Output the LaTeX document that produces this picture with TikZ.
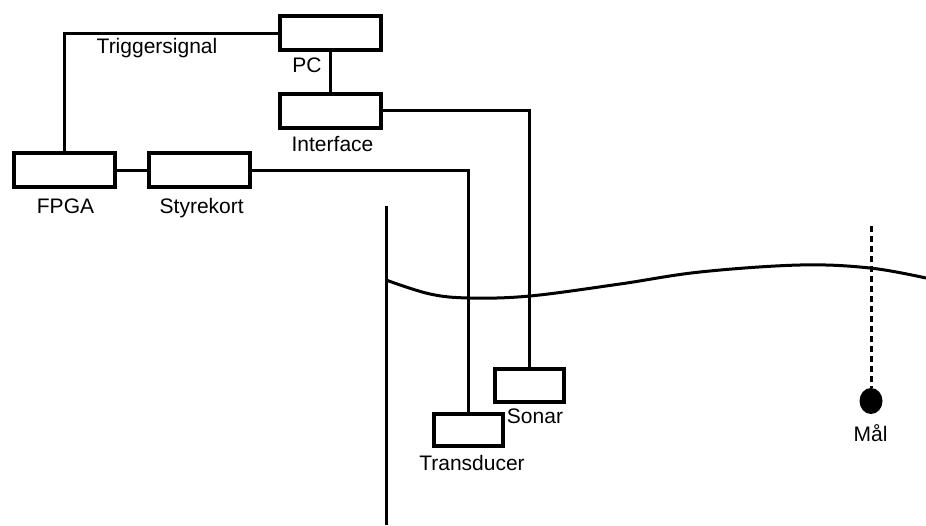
\documentclass[tikz,border=0pt]{standalone}
\usepackage{fontspec}
\setmainfont{Liberation Sans}
\usetikzlibrary{shapes.geometric}
\begin{document}
\begin{tikzpicture}[x=1pt,y=-1pt,
  box/.style={draw,line width=4pt,rectangle,inner sep=0pt,minimum width=101pt,minimum height=34pt},
  smallbox/.style={draw,line width=4pt,rectangle,inner sep=0pt,minimum width=69pt,minimum height=33pt},
  wire/.style={line width=3pt},
  lbl/.style={anchor=base,inner sep=0pt,font=\fontsize{21}{25}\selectfont}]
\useasboundingbox (0,0) rectangle (926,525);
% boxes
\node[box] (pc) at (330.5,33) {};
\node[box] (iface) at (330.5,110.5) {};
\node[box] (fpga) at (64.5,170) {};
\node[box] (styr) at (199.5,170) {};
\node[smallbox] (sonar) at (529.5,385.5) {};
\node[smallbox,minimum height=32pt] (trans) at (468.5,430) {};
\node[ellipse,fill=black,inner sep=0pt,minimum width=23pt,minimum height=26pt] (mal) at (871,401) {};
% labels
\node[lbl] (ltrig) at (157,53.6) {Triggersignal};
\node[lbl] (lpc) at (307,72.7) {PC};
\node[lbl] (liface) at (332.5,151.7) {Interface};
\node[lbl] (lfpga) at (65.5,213) {FPGA};
\node[lbl] (lstyr) at (201.7,213) {Styrekort};
\node[lbl] (lsonar) at (535,423) {Sonar};
\node[lbl] (ltrans) at (472,470.7) {Transducer};
\node[lbl] (lmal) at (870.5,441.7) {Mål};
% connectors
\draw[wire] (pc.west) -| (fpga.north);
\draw[wire] (pc.south) -- (iface.north);
\draw[wire] (fpga.east) -- (styr.west);
\draw[wire] (styr.east) -| (trans.north);
\draw[wire] (iface.east) -| (sonar.north);
% wall and water surface
\coordinate (walltop) at (386,206);
\coordinate (wallbot) at (386,525);
\draw[wire] (walltop) -- (wallbot);
\draw[wire] plot[smooth,tension=0.6] coordinates {(386,280) (430,294) (470,298) (530,296) (620,284) (700,272) (800,265) (870,268) (926,278)};
% target line
\coordinate (maltop) at (871,226);
\draw[wire,dash pattern=on 6pt off 4pt] (maltop) -- (mal.north);
\end{tikzpicture}
\end{document}
